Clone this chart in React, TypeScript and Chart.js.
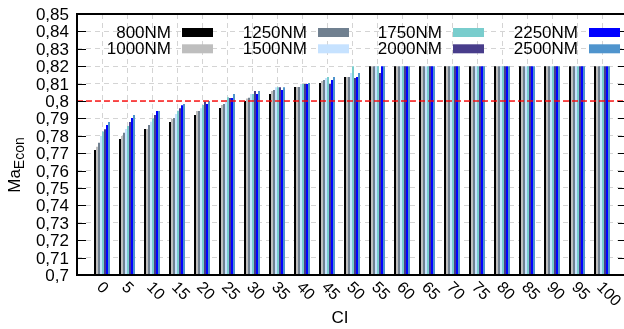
import React, { useEffect, useRef } from "react";
import { Chart, registerables } from "chart.js";

Chart.register(...registerables);

const CI_LABELS = ["0", "5", "10", "15", "20", "25", "30", "35", "40", "45", "50", "55", "60", "65", "70", "75", "80", "85", "90", "95", "100"];
const CI_INDEX = [0, 1, 2, 3, 4, 5, 6, 7, 8, 9, 10, 11, 12, 13, 14, 15, 16, 17, 18, 19, 20];

const SERIES_NAMES = ["800NM", "1000NM", "1250NM", "1500NM", "1750NM", "2000NM", "2250NM", "2500NM"];
const SERIES_COLORS = ["#000000", "#bebebe", "#708090", "#c6e2ff", "#79cdcd", "#483d8b", "#0000ff", "#4f94cd"];

const NM800 = [0.7718, 0.7782, 0.7839, 0.7879, 0.792, 0.796, 0.8, 0.804, 0.808, 0.8103, 0.8138, 0.82, 0.82, 0.82, 0.82, 0.82, 0.82, 0.82, 0.82, 0.82, 0.82];
const NM1000 = [0.7737, 0.7799, 0.7839, 0.7897, 0.7942, 0.7977, 0.8014, 0.8058, 0.808, 0.8115, 0.8138, 0.82, 0.82, 0.82, 0.82, 0.82, 0.82, 0.82, 0.82, 0.82, 0.82];
const NM1250 = [0.776, 0.7818, 0.7862, 0.7902, 0.7942, 0.7983, 0.8019, 0.8063, 0.808, 0.8121, 0.8138, 0.82, 0.82, 0.82, 0.82, 0.82, 0.82, 0.82, 0.82, 0.82, 0.82];
const NM1500 = [0.7799, 0.7839, 0.7881, 0.7925, 0.7958, 0.8006, 0.804, 0.8079, 0.8098, 0.8132, 0.8161, 0.82, 0.82, 0.82, 0.82, 0.82, 0.82, 0.82, 0.82, 0.82, 0.82];
const NM1750 = [0.7824, 0.7856, 0.79, 0.7944, 0.7977, 0.8021, 0.804, 0.8079, 0.8098, 0.8138, 0.82, 0.82, 0.82, 0.82, 0.82, 0.82, 0.82, 0.82, 0.82, 0.82, 0.82];
const NM2000 = [0.7837, 0.7879, 0.792, 0.7958, 0.7996, 0.8017, 0.8058, 0.8079, 0.8098, 0.8098, 0.8132, 0.8161, 0.82, 0.82, 0.82, 0.82, 0.82, 0.82, 0.82, 0.82, 0.82];
const NM2250 = [0.7862, 0.7902, 0.7942, 0.7975, 0.7983, 0.8017, 0.804, 0.8063, 0.8098, 0.8121, 0.8138, 0.82, 0.82, 0.82, 0.82, 0.82, 0.82, 0.82, 0.82, 0.82, 0.82];
const NM2500 = [0.7879, 0.792, 0.7942, 0.7983, 0.8, 0.804, 0.8058, 0.8079, 0.8103, 0.8138, 0.8161, 0.82, 0.82, 0.82, 0.82, 0.82, 0.82, 0.82, 0.82, 0.82, 0.82];

const SERIES_VALUES = [NM800, NM1000, NM1250, NM1500, NM1750, NM2000, NM2250, NM2500];

const Y_TICKS = [0.7, 0.71, 0.72, 0.73, 0.74, 0.75, 0.76, 0.77, 0.78, 0.79, 0.8, 0.81, 0.82, 0.83, 0.84, 0.85];
const Y_TICK_LABELS = ["0,7", "0,71", "0,72", "0,73", "0,74", "0,75", "0,76", "0,77", "0,78", "0,79", "0,8", "0,81", "0,82", "0,83", "0,84", "0,85"];
const REFERENCE_MACH = [0.8];

const FONT = '"Liberation Sans", Arial, sans-serif';

const overlayPlugin = {
  id: "overlay",
  afterDraw(chart: any) {
    const { ctx, chartArea } = chart;
    const xs = chart.scales.x;
    const ys = chart.scales.y;
    const L = chartArea.left, R = chartArea.right, T = chartArea.top, B = chartArea.bottom;
    ctx.save();

    // reference line
    REFERENCE_MACH.forEach((v) => {
      const py = ys.getPixelForValue(v);
      ctx.strokeStyle = "rgba(255,0,0,0.9)";
      ctx.lineWidth = 1.6;
      ctx.setLineDash([6, 3]);
      ctx.beginPath();
      ctx.moveTo(L, py);
      ctx.lineTo(R, py);
      ctx.stroke();
    });
    ctx.setLineDash([]);

    // frame
    ctx.strokeStyle = "#000";
    ctx.lineWidth = 2;
    ctx.beginPath();
    ctx.moveTo(R, T);
    ctx.lineTo(L, T);
    ctx.lineTo(L, B);
    ctx.lineTo(R, B);
    ctx.lineTo(R, T);
    ctx.stroke();

    // y ticks (inward, mirrored) and labels
    ctx.lineWidth = 1.2;
    ctx.font = `17px ${FONT}`;
    ctx.fillStyle = "#000";
    ctx.textAlign = "right";
    ctx.textBaseline = "middle";
    Y_TICKS.forEach((v, i) => {
      const py = Math.round(ys.getPixelForValue(v)) + 0.5;
      ctx.beginPath();
      ctx.moveTo(L, py);
      ctx.lineTo(L + 9, py);
      ctx.moveTo(R, py);
      ctx.lineTo(R - 9, py);
      ctx.stroke();
      ctx.fillText(Y_TICK_LABELS[i], L - 8, py + 1);
    });

    // x tick labels rotated clockwise
    ctx.font = `16px ${FONT}`;
    ctx.textAlign = "left";
    ctx.textBaseline = "middle";
    CI_INDEX.forEach((idx, i) => {
      const px = xs.getPixelForValue(idx);
      ctx.save();
      ctx.translate(px - 3, B + 10);
      ctx.rotate(Math.PI / 4);
      ctx.fillText(CI_LABELS[i], 0, 0);
      ctx.restore();
    });

    // axis titles
    ctx.font = `17px ${FONT}`;
    ctx.textAlign = "center";
    ctx.textBaseline = "alphabetic";
    ctx.fillText("CI", 340, 323);

    ctx.save();
    ctx.translate(20, 165);
    ctx.rotate(-Math.PI / 2);
    ctx.font = `17px ${FONT}`;
    const maW = ctx.measureText("Ma").width;
    ctx.font = `14px ${FONT}`;
    const subW = ctx.measureText("Econ").width;
    const total = maW + subW;
    ctx.textAlign = "left";
    ctx.font = `17px ${FONT}`;
    ctx.fillText("Ma", -total / 2, 0);
    ctx.font = `14px ${FONT}`;
    ctx.fillText("Econ", -total / 2 + maW, 4);
    ctx.restore();

    // legend
    const textEnds = [171, 307, 442, 578];
    const rowY = [32.5, 48.8];
    ctx.font = `17px ${FONT}`;
    ctx.textAlign = "right";
    ctx.textBaseline = "middle";
    SERIES_NAMES.forEach((name, i) => {
      const col = Math.floor(i / 2);
      const row = i % 2;
      const tx = textEnds[col];
      const ty = rowY[row];
      ctx.fillStyle = "#000";
      ctx.fillText(name, tx, ty + 1);
      ctx.fillStyle = SERIES_COLORS[i];
      ctx.fillRect(tx + 11, ty - 4.5, 31, 9);
    });

    ctx.restore();
  },
};

export default function App() {
  const canvasRef = useRef<HTMLCanvasElement | null>(null);

  useEffect(() => {
    const canvas = canvasRef.current;
    if (!canvas) return;
    const datasets = SERIES_NAMES.map((name, s) => ({
      label: name,
      data: CI_INDEX.map((idx, i) => ({ x: idx, y: SERIES_VALUES[s][i] })),
      backgroundColor: SERIES_COLORS[s],
      borderWidth: 0,
      categoryPercentage: 0.64,
      barPercentage: 1.0,
    }));
    const chart = new Chart(canvas, {
      type: "bar",
      data: { datasets },
      options: {
        responsive: false,
        animation: false,
        devicePixelRatio: 1,
        layout: { padding: { left: 77, right: 13, top: 14, bottom: 54 } },
        plugins: { legend: { display: false }, tooltip: { enabled: false } },
        scales: {
          x: {
            type: "linear",
            min: -1,
            max: 21,
            offset: false,
            ticks: { display: false, stepSize: 1 },
            grid: { color: "#d4d4d4", lineWidth: 1, drawTicks: false, offset: false },
            border: { display: false, dash: [5, 4] },
            afterFit: (s: any) => { s.height = 0; },
          },
          y: {
            min: 0.7,
            max: 0.85,
            ticks: { display: false, stepSize: 0.01 },
            grid: { color: "#d4d4d4", lineWidth: 1, drawTicks: false },
            border: { display: false, dash: [5, 4] },
            afterFit: (s: any) => { s.width = 0; },
          },
        },
      },
      plugins: [overlayPlugin],
    });
    return () => chart.destroy();
  }, []);

  return (
    <div style={{ position: "fixed", left: 0, top: 0, width: 624, height: 329, overflow: "hidden", background: "#fff" }}>
      <canvas ref={canvasRef} width={640} height={329} style={{ width: 640, height: 329, display: "block" }} />
    </div>
  );
}
